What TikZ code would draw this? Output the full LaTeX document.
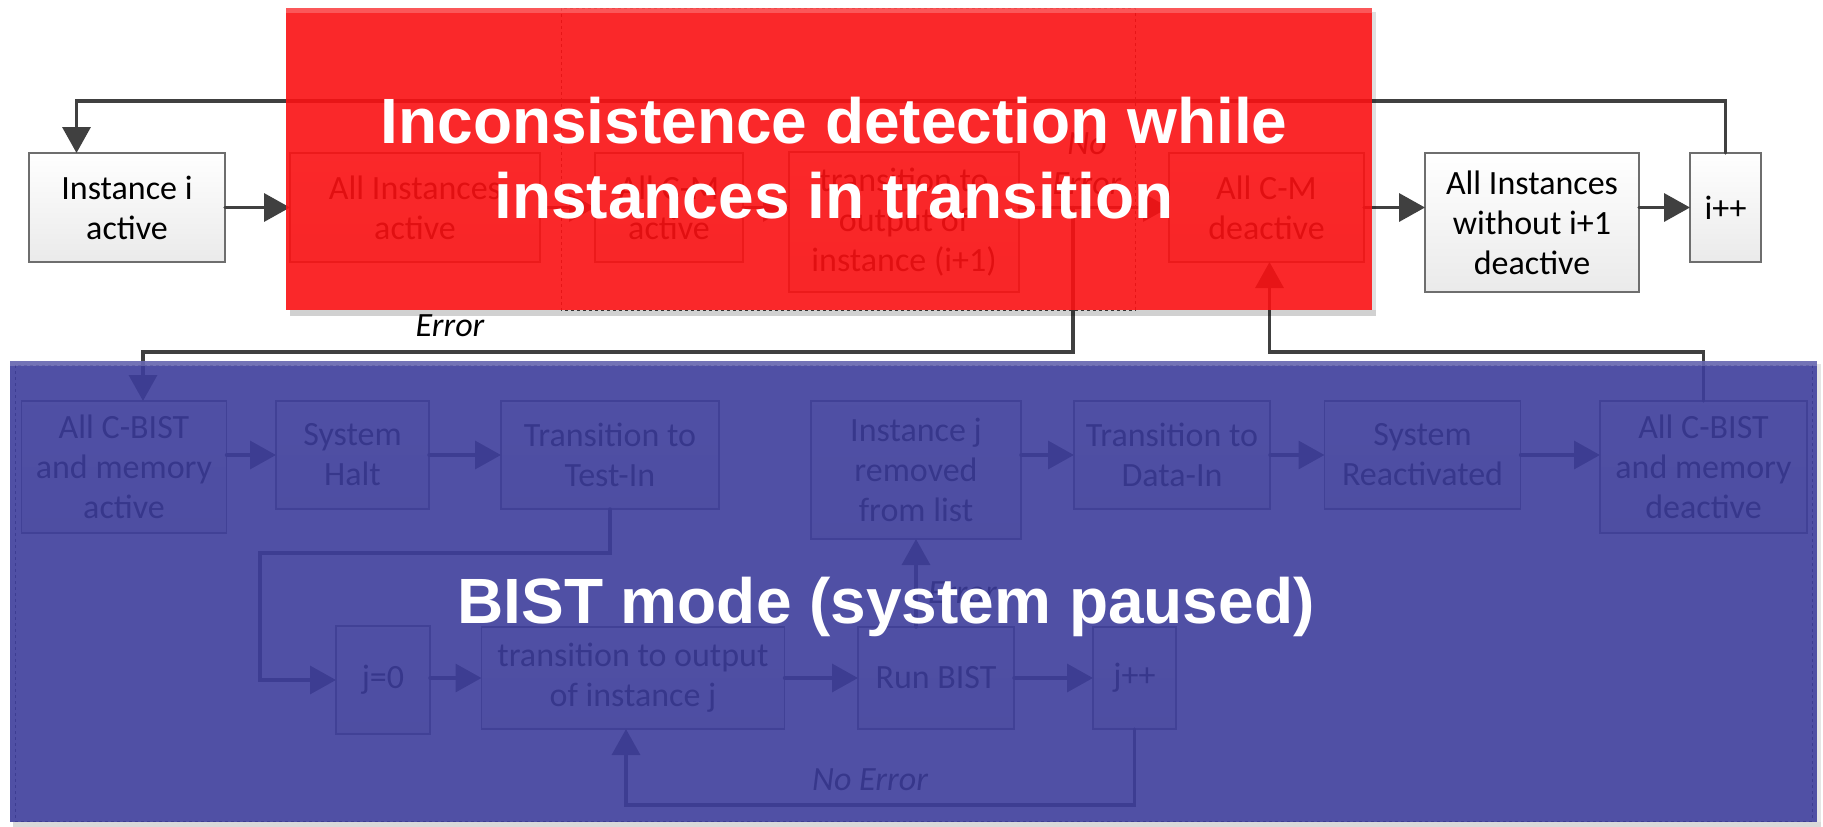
\documentclass[tikz,border=0pt]{standalone}
\usepackage{fontspec}
\setmainfont{Carlito}
\newfontfamily\headfont{Liberation Sans}
\usetikzlibrary{arrows.meta,calc}

\definecolor{linegray}{RGB}{64,64,64}
\definecolor{boxedge}{RGB}{110,110,110}
\definecolor{boxlow}{RGB}{234,234,234}
\definecolor{redveil}{RGB}{250,17,19}
\definecolor{blueveil}{RGB}{61,61,155}

\begin{document}
\begin{tikzpicture}[x=1pt,y=-1pt,
  every node/.style={font=\fontsize{34}{40}\selectfont, inner sep=0pt, outer sep=0pt},
  box/.style={draw=boxedge, line width=1.3pt, top color=white, bottom color=boxlow, align=center},
  wire/.style={draw=linegray, line width=3.5pt, line cap=round},
  arr/.style={wire, -{Triangle[length=26pt,width=28pt]}},
  lbl/.style={font=\fontsize{34}{40}\selectfont\itshape, text=black},
  head/.style={font=\headfont\bfseries\fontsize{64}{76}\selectfont, text=white}
]
\useasboundingbox (0,0) rectangle (1823,827);

% ---- group outlines (dashed) ----
\draw[linegray, dashed, line width=1pt] (561,8) rectangle (1135,310);
\draw[linegray, dashed, line width=1pt] (15,365) rectangle (1812,821);

% ---- main loop over instances ----
\node[box, minimum width=196pt, minimum height=109pt] (inst)    at (127,207.5)  {Instance i\\active};
\node[box, minimum width=250pt, minimum height=109pt] (allinst) at (415,207.5)  {All Instances\\active};
\node[box, minimum width=148pt, minimum height=109pt] (cmact)   at (669,207.5)  {All C-M\\active};
\node[box, minimum width=230pt, minimum height=140pt] (trans1)  at (904,222)    {transition to\\output of\\instance (i+1)};
\node[box, minimum width=195pt, minimum height=109pt] (cmdeact) at (1266.5,207.5) {All C-M\\deactive};
\node[box, minimum width=214pt, minimum height=139pt] (allwo)   at (1532,222.5) {All Instances\\without i+1\\deactive};
\node[box, minimum width=71pt,  minimum height=109pt] (ipp)     at (1725.5,207.5) {i++};

% ---- BIST sequence ----
\node[box, minimum width=205pt, minimum height=132pt] (cbact)   at (124,467)    {All C-BIST\\and memory\\active};
\node[box, minimum width=153pt, minimum height=108pt] (halt)    at (352.5,455)  {System\\Halt};
\node[box, minimum width=218pt, minimum height=108pt] (testin)  at (610,455)    {Transition to\\Test-In};
\node[box, minimum width=210pt, minimum height=138pt] (instj)   at (916,470)    {Instance j\\removed\\from list};
\node[box, minimum width=196pt, minimum height=108pt] (datain)  at (1172,455)   {Transition to\\Data-In};
\node[box, minimum width=196pt, minimum height=108pt] (react)   at (1422.5,455) {System\\Reactivated};
\node[box, minimum width=207pt, minimum height=132pt] (cbdeact) at (1703.5,467) {All C-BIST\\and memory\\deactive};

\node[box, minimum width=94pt,  minimum height=108pt] (j0)      at (383,680)    {j=0};
\node[box, minimum width=303pt, minimum height=102pt] (outj)    at (633,678)    {transition to output\\of instance j};
\node[box, minimum width=156pt, minimum height=102pt] (run)     at (936,678)    {Run BIST};
\node[box, minimum width=83pt,  minimum height=102pt] (jpp)     at (1134.5,678) {j++};

% ---- routing points ----
\coordinate (split)   at (1073,207.5);
\coordinate (errdown) at (1073,352);
\coordinate (cbin)    at ($(cbact.north west)+(121.5,0)$);
\coordinate (instin)  at ($(inst.north west)+(47.5,0)$);
\coordinate (j0left)  at ($(j0.west)+(-76,0)$);
\coordinate (outjin)  at ($(outj.south)+(-7,0)$);
\coordinate (cmin)    at ($(cmdeact.south)+(3,0)$);

% ---- connectors, top row ----
\draw[arr] (inst.east) -- (allinst.west);
\draw[arr] (allinst.east) -- (cmact.west);
\draw[arr] (cmact.east) -- (cmact.east -| trans1.west);
\draw[arr] (trans1.east |- cmdeact.west) -- (cmdeact.west);
\draw[arr] (cmdeact.east) -- (cmdeact.east -| allwo.west);
\draw[arr] (allwo.east |- ipp.west) -- (ipp.west);
\draw[arr] (ipp.north) -- ++(0,-52) -| (instin);
\draw[arr] (split) -- (errdown) -| (cbin);

% ---- connectors, BIST mode ----
\draw[arr] (cbact.east |- halt.west) -- (halt.west);
\draw[arr] (halt.east) -- (testin.west);
\draw[arr] (testin.south) -- ++(0,44) -| (j0left) -- (j0.west);
\draw[arr] (j0.east |- outj.west) -- (outj.west);
\draw[arr] (outj.east) -- (run.west);
\draw[arr] (run.east) -- (jpp.west);
\draw[arr] (jpp.south) -- ++(0,76) -| (outjin);
\draw[arr] (run.north -| instj.south) -- (instj.south);
\draw[arr] (instj.east |- datain.west) -- (datain.west);
\draw[arr] (datain.east) -- (react.west);
\draw[arr] (react.east) -- (react.east -| cbdeact.west);
\draw[arr] (cbdeact.north) -- ++(0,-49) -| (cmin);

% ---- branch labels ----
\node[lbl, anchor=base] (errA) at (450,336) {Error};
\node[lbl, align=center] (noerrA) at (1087,164) {No\\Error};
\node[lbl, anchor=base west] (errB) at (928,603) {Error};
\node[lbl, anchor=base] (noerrB) at (870,790) {No Error};

% ---- translucent mode panels ----
\fill[black, opacity=0.18] (290,310) rectangle (1376,316);
\fill[black, opacity=0.12] (1372,12) rectangle (1376,310);
\fill[redveil, fill opacity=0.9] (286,8) rectangle (1372,310);
\fill[white, opacity=0.22] (286,8) rectangle (1372,13);

\fill[black, opacity=0.15] (13,822) rectangle (1821,827);
\fill[black, opacity=0.10] (1817,364) rectangle (1821,822);
\fill[blueveil, fill opacity=0.9] (10,361) rectangle (1817,822);
\fill[white, opacity=0.2] (10,361) rectangle (1817,366);

% ---- panel titles ----
\node[head, anchor=base] (headA) at (834,143) {Inconsistence detection while};
\node[head, anchor=base] (headB) at (834,218) {instances in transition};
\node[head, anchor=base] (headC) at (886,623) {BIST mode (system paused)};
\end{tikzpicture}
\end{document}
